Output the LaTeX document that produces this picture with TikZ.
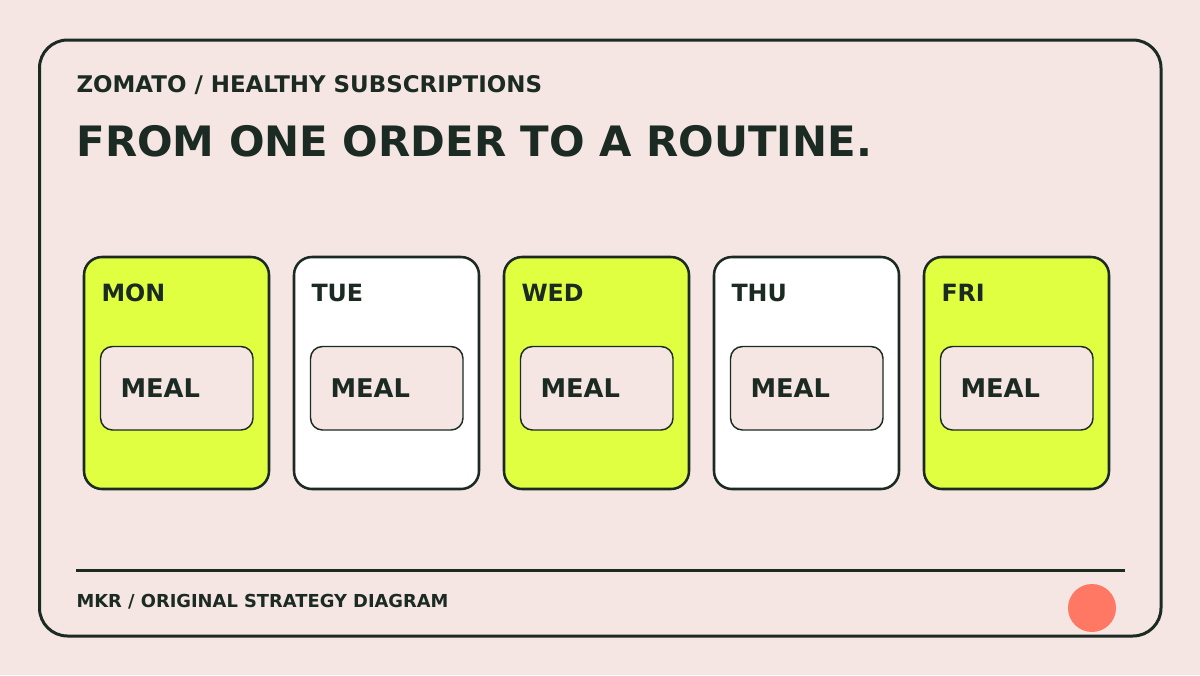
\documentclass[tikz,border=0pt]{standalone}
\usepackage{fontspec}
\setmainfont{DejaVu Sans}

\definecolor{inkdark}{RGB}{27,42,34}
\definecolor{paperbg}{RGB}{245,230,227}
\definecolor{limefill}{RGB}{224,255,64}
\definecolor{coraldot}{RGB}{255,120,100}

\tikzset{every picture/.style={line width=0.75pt}}
\tikzset{
  cardline/.style={draw=inkdark, line width=1.9pt, rounded corners=13.5pt},
  mealline/.style={draw=inkdark, fill=paperbg, line width=1.1pt, rounded corners=9pt},
  daytext/.style={anchor=base west, inner sep=0pt, text=inkdark, font=\bfseries\fontsize{17.8pt}{20pt}\selectfont},
  mealtext/.style={anchor=base west, inner sep=0pt, text=inkdark, font=\bfseries\fontsize{19.3pt}{22pt}\selectfont}
}

\begin{document}
\begin{tikzpicture}[x=0.75pt,y=0.75pt,yscale=-1,xscale=1]
    %set diagram left start at 0, and has height of 675
    \useasboundingbox (0,0) rectangle (1200,675);
    \fill [paperbg] (0,0) rectangle (1200,675);

    %Shape: Rectangle [id:outer frame]
    \draw [draw=inkdark, line width=2.25pt, rounded corners=21pt] (39.5,40) -- (1161,40) -- (1161,636) -- (39.5,636) -- cycle ;

    % Text Node
    \node (kicker) [anchor=base west, inner sep=0pt, text=inkdark, font=\bfseries\fontsize{17.2pt}{20pt}\selectfont] at (76,92) {ZOMATO / HEALTHY SUBSCRIPTIONS};
    % Text Node
    \node (headline) [anchor=base west, inner sep=0pt, text=inkdark, font=\bfseries\fontsize{31.4pt}{36pt}\selectfont] at (76,156) {FROM ONE ORDER TO A ROUTINE.};

    %Shape: Rectangle [id:card mon]
    \draw [cardline, fill=limefill] (84,257) -- (269,257) -- (269,489) -- (84,489) -- cycle ;
    %Shape: Rectangle [id:meal mon]
    \draw [mealline] (100.5,346.5) -- (253,346.5) -- (253,430) -- (100.5,430) -- cycle ;
    % Text Node
    \node (mon) [daytext] at (101,301.5) {MON};
    % Text Node
    \node (monmeal) [mealtext] at (120,397) {MEAL};

    %Shape: Rectangle [id:card tue]
    \draw [cardline, fill=white] (294,257) -- (479,257) -- (479,489) -- (294,489) -- cycle ;
    %Shape: Rectangle [id:meal tue]
    \draw [mealline] (310.5,346.5) -- (463,346.5) -- (463,430) -- (310.5,430) -- cycle ;
    % Text Node
    \node (tue) [daytext] at (311,301.5) {TUE};
    % Text Node
    \node (tuemeal) [mealtext] at (330,397) {MEAL};

    %Shape: Rectangle [id:card wed]
    \draw [cardline, fill=limefill] (504,257) -- (689,257) -- (689,489) -- (504,489) -- cycle ;
    %Shape: Rectangle [id:meal wed]
    \draw [mealline] (520.5,346.5) -- (673,346.5) -- (673,430) -- (520.5,430) -- cycle ;
    % Text Node
    \node (wed) [daytext] at (521,301.5) {WED};
    % Text Node
    \node (wedmeal) [mealtext] at (540,397) {MEAL};

    %Shape: Rectangle [id:card thu]
    \draw [cardline, fill=white] (714,257) -- (899,257) -- (899,489) -- (714,489) -- cycle ;
    %Shape: Rectangle [id:meal thu]
    \draw [mealline] (730.5,346.5) -- (883,346.5) -- (883,430) -- (730.5,430) -- cycle ;
    % Text Node
    \node (thu) [daytext] at (731,301.5) {THU};
    % Text Node
    \node (thumeal) [mealtext] at (750,397) {MEAL};

    %Shape: Rectangle [id:card fri]
    \draw [cardline, fill=limefill] (924,257) -- (1109,257) -- (1109,489) -- (924,489) -- cycle ;
    %Shape: Rectangle [id:meal fri]
    \draw [mealline] (940.5,346.5) -- (1093,346.5) -- (1093,430) -- (940.5,430) -- cycle ;
    % Text Node
    \node (fri) [daytext] at (941,301.5) {FRI};
    % Text Node
    \node (frimeal) [mealtext] at (960,397) {MEAL};

    %Straight Lines [id:footer rule]
    \draw [draw=inkdark, line width=2.25pt] (76,570.5) -- (1125,570.5) ;

    % Text Node
    \node (credit) [anchor=base west, inner sep=0pt, text=inkdark, font=\bfseries\fontsize{13.4pt}{16pt}\selectfont] at (76,607) {MKR / ORIGINAL STRATEGY DIAGRAM};

    %Shape: Circle [id:coral dot]
    \fill [coraldot] (1092,608) circle [radius=24] ;
\end{tikzpicture}
\end{document}
